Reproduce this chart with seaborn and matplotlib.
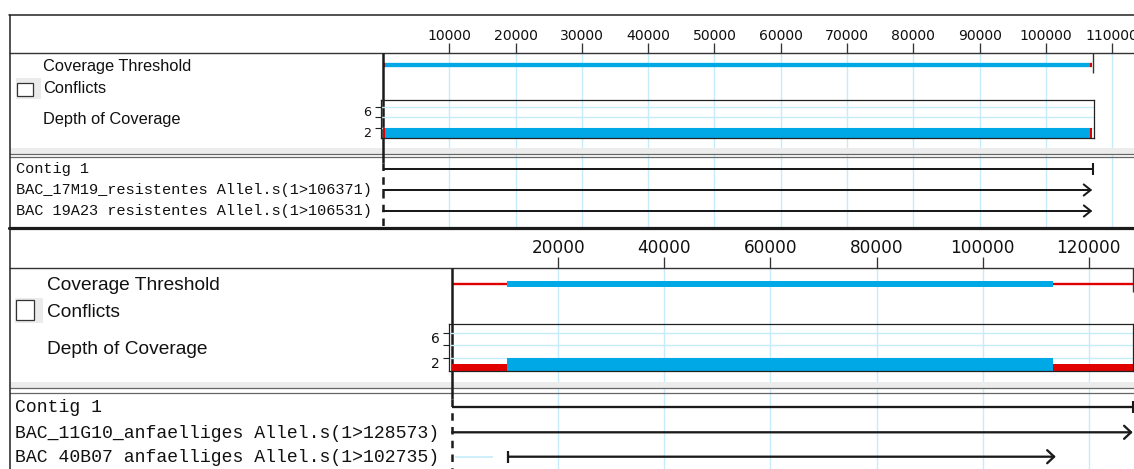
import numpy as np
import pandas as pd
import seaborn as sns
import matplotlib.pyplot as plt
from matplotlib.patches import Rectangle
from matplotlib.transforms import ScaledTranslation

# ---- values read off the two contig views ----
# upper view: resistant alleles
top_ticks = [10000, 20000, 30000, 40000, 50000, 60000, 70000, 80000, 90000, 100000, 110000]
top_contig_len = 107100
top_read_names = ["BAC_17M19_resistentes Allel.s(1>106371)",
                  "BAC 19A23 resistentes Allel.s(1>106531)"]
top_read_start = [0, 0]
top_read_end = [106980, 107000]
top_seg_start = [0, 300, 106600]
top_seg_end = [300, 106600, 107000]
top_seg_ok = [False, True, False]
top_depth = [2, 2, 2]

# lower view: susceptible alleles
bot_ticks = [20000, 40000, 60000, 80000, 100000, 120000]
bot_contig_len = 128300
bot_read_names = ["BAC_11G10_anfaelliges Allel.s(1>128573)",
                  "BAC 40B07 anfaelliges Allel.s(1>102735)"]
bot_read_start = [0, 10600]
bot_read_end = [128300, 113800]
bot_trim_start = [0, 500]
bot_trim_end = [0, 7700]
bot_seg_start = [0, 10400, 113300]
bot_seg_end = [10400, 113300, 128300]
bot_seg_ok = [False, True, False]
bot_depth = [1, 2, 1]

track_labels = ["Coverage Threshold", "Conflicts", "Depth of Coverage"]
depth_ticks = [2, 4, 6]
depth_ticklabels = ["2", "", "6"]

W, H = 1134, 469
BLUE = '#00a8e6'
RED = '#e00000'
GRID = '#c6ecfb'

sns.set_theme(style="white")
plt.rcParams['font.family'] = ['DejaVu Sans']

fig = plt.figure(figsize=(W / 100, H / 100), dpi=100)


def px_axes(x0, y0, x1, y1, **kw):
    return fig.add_axes([x0 / W, 1 - y1 / H, (x1 - x0) / W, (y1 - y0) / H], **kw)


# layout of each view, in screen pixels
top_lay = dict(px0=383.0, scale=6.63e-3, ruler=53, bottom=228, thr=65, thr_tick=8,
               box=(381, 100, 1094, 138), dmax=7.4, sep=(148, 154, 157),
               rows=(169, 190, 211), thick=3.1, thin=3.1, read_lw=1.45,
               tick_len=7.2, tick_fs=10.1, depth_fs=9.2, depth_dy=4,
               lab_fs=11.8, lab_x=43, lab_base=(71.5, 93.3, 124),
               name_x=16, name_fs=11.0, name_dy=4.4,
               check=(17.3, 82.7, 16, 13), check_bg=(16, 78, 24.7, 21), head=0.4)
bot_lay = dict(px0=452.2, scale=5.304e-3, ruler=268, bottom=469, thr=284, thr_tick=8,
               box=(449, 324.3, 1133, 370.5), dmax=7.3, sep=(382, 388.5, 392.7),
               rows=(407.3, 432.3, 456.7), thick=4.3, thin=1.7, read_lw=1.65,
               tick_len=7.9, tick_fs=12.2, depth_fs=9.9, depth_dy=5,
               lab_fs=13.8, lab_x=47, lab_base=(290, 316.7, 354.3),
               name_x=15, name_fs=13.1, name_dy=5.2,
               check=(15.7, 300, 18.6, 20), check_bg=(15, 297.7, 28, 25.6), head=0.47)


def draw_view(lay, ticks, contig_len, names, r_start, r_end, seg_start, seg_end, seg_ok, depth,
              trim_start=None, trim_end=None):
    s, x0 = lay['scale'], lay['px0']

    # ruler + tracks share one axes; y is in screen rows
    ax = px_axes(10, lay['ruler'], W, lay['bottom'])
    ax.set_xlim((10 - x0) / s, (W - x0) / s)
    ax.set_ylim(lay['bottom'], lay['ruler'])
    for side in ['left', 'right', 'bottom']:
        ax.spines[side].set_visible(False)
    ax.spines['top'].set_color('#333')
    ax.spines['top'].set_linewidth(1.0)
    ax.set_xticks(ticks)
    ax.set_xticklabels([str(t) for t in ticks])
    ax.xaxis.tick_top()
    ax.tick_params(axis='x', top=True, labeltop=True, bottom=False, labelbottom=False,
                   direction='out', length=lay['tick_len'], width=0.95, color='#333',
                   pad=0, labelsize=lay['tick_fs'], labelcolor='#111')
    ax.set_yticks([])
    ax.grid(axis='x', color=GRID, lw=1)

    # separator between tracks and reads
    sep = lay['sep']
    ax.axhspan(sep[0], sep[1], color='#ececec', lw=0, zorder=1)
    ax.axhline(sep[1], color='#666', lw=0.9, zorder=2)
    ax.axhline(sep[2], color='#666', lw=0.9, zorder=2)

    # contig start line
    ax.vlines(0, lay['ruler'], sep[2] + 6, color='k', lw=1.8, zorder=4)
    ax.vlines(0, sep[2] + 6, lay['bottom'], color='k', lw=1.8, linestyles=(0, (3, 2.5)), zorder=4)

    # coverage threshold track
    for a, b, ok in zip(seg_start, seg_end, seg_ok):
        lc = ax.hlines(lay['thr'], a, b, color=BLUE if ok else RED,
                       lw=lay['thick'] if ok else lay['thin'], zorder=3)
        lc.set_capstyle('butt')
    ax.vlines(contig_len, lay['ruler'], lay['thr'] + lay['thr_tick'], color='#333', lw=1, zorder=3)

    # contig + reads
    rows = lay['rows']
    ax.hlines(rows[0], 0, contig_len, color='k', lw=lay['read_lw'], zorder=4)
    ax.plot([contig_len], [rows[0]], marker='|', ms=9, mew=1.5, color='k', zorder=4)
    for i, (a, b) in enumerate(zip(r_start, r_end)):
        y = rows[i + 1]
        if trim_start is not None and trim_end[i] > trim_start[i]:
            ax.hlines(y, trim_start[i], trim_end[i], color=GRID, lw=1.2, zorder=3)
        ax.annotate('', xy=(b, y), xytext=(a, y), annotation_clip=False, zorder=4,
                    arrowprops=dict(arrowstyle=f"->,head_length=0.5,head_width={lay['head']}",
                                    color='k', lw=lay['read_lw'], shrinkA=0, shrinkB=0,
                                    mutation_scale=10))
        if a > 0:
            ax.plot([a], [y], marker='|', ms=9, mew=1.6, color='k', zorder=4)

    # depth of coverage box
    bx = lay['box']
    dax = px_axes(bx[0], bx[1], bx[2], bx[3])
    dax.set_facecolor('none')
    dax.set_xlim((bx[0] - x0) / s, (bx[2] - x0) / s)
    dax.set_ylim(0, lay['dmax'])
    dax.bar(seg_start, depth, width=np.subtract(seg_end, seg_start), align='edge',
            color=[BLUE if ok else RED for ok in seg_ok], lw=0)
    for side in dax.spines.values():
        side.set_visible(True)
        side.set_color('#222')
        side.set_linewidth(0.9)
    dax.set_xticks([])
    dax.set_yticks(depth_ticks)
    dax.set_yticklabels(depth_ticklabels)
    dax.tick_params(axis='y', left=True, direction='out', length=4.3, width=0.8, color='#222',
                    pad=2.6, labelsize=lay['depth_fs'], labelcolor='#111')
    dax.grid(axis='y', color=GRID, lw=1)
    shift = ScaledTranslation(0, -lay['depth_dy'] / 100, fig.dpi_scale_trans)
    for lbl in dax.get_yticklabels():
        lbl.set_transform(lbl.get_transform() + shift)
    return ax


draw_view(top_lay, top_ticks, top_contig_len, top_read_names, top_read_start, top_read_end,
          top_seg_start, top_seg_end, top_seg_ok, top_depth)
draw_view(bot_lay, bot_ticks, bot_contig_len, bot_read_names, bot_read_start, bot_read_end,
          bot_seg_start, bot_seg_end, bot_seg_ok, bot_depth, bot_trim_start, bot_trim_end)

# overlay in screen pixels: frames, labels, check boxes
ov = fig.add_axes([0, 0, 1, 1], zorder=10)
ov.set_xlim(0, W)
ov.set_ylim(H, 0)
ov.axis('off')
ov.patch.set_alpha(0)

ov.plot([9, W], [15, 15], color='#222', lw=1.1)
ov.plot([9.5, 9.5], [15, 228], color='#222', lw=1.1)
ov.plot([9, W], [227.8, 227.8], color='k', lw=2.3)
ov.plot([9.5, 9.5], [228, H], color='#222', lw=1.1)

for lay, names in [(top_lay, top_read_names), (bot_lay, bot_read_names)]:
    for txt, yb in zip(track_labels, lay['lab_base']):
        ov.text(lay['lab_x'], yb, txt, fontsize=lay['lab_fs'], family='Liberation Sans',
                va='baseline', ha='left', color='#111')
    bg = lay['check_bg']
    ov.add_patch(Rectangle((bg[0], bg[1]), bg[2], bg[3], facecolor='#ebebeb', lw=0))
    cb = lay['check']
    ov.add_patch(Rectangle((cb[0], cb[1]), cb[2], cb[3], facecolor='white', edgecolor='#333', lw=0.9))
    for txt, y in zip(["Contig 1"] + names, lay['rows']):
        ov.text(lay['name_x'], y + lay['name_dy'], txt, fontsize=lay['name_fs'],
                family='Liberation Mono', va='baseline', ha='left', color='#111')

fig.savefig('out.png', dpi=100, facecolor='white')
